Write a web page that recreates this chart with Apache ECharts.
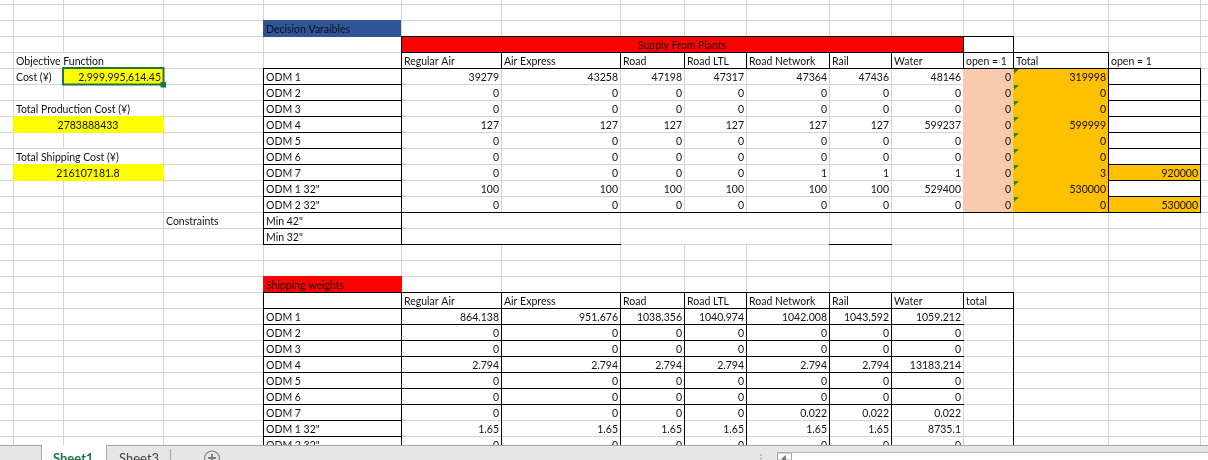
<!DOCTYPE html>
<html>
<head>
<meta charset="utf-8">
<title>Sheet1</title>
<style>
html,body{margin:0;padding:0;background:#fff}
#main{width:1208px;height:460px}
</style>
<script src="https://cdn.jsdelivr.net/npm/echarts@6/dist/echarts.min.js"></script>
</head>
<body>
<div id="main"></div>
<script>
// 表格内容
var rowLabels = ['ODM 1','ODM 2','ODM 3','ODM 4','ODM 5','ODM 6','ODM 7','ODM 1 32"','ODM 2 32"'];
var modes = ['Regular Air','Air Express','Road','Road LTL','Road Network','Rail','Water'];

var supplyRegularAir = [39279,0,0,127,0,0,0,100,0];
var supplyAirExpress = [43258,0,0,127,0,0,0,100,0];
var supplyRoad = [47198,0,0,127,0,0,0,100,0];
var supplyRoadLTL = [47317,0,0,127,0,0,0,100,0];
var supplyRoadNetwork = [47364,0,0,127,0,0,1,100,0];
var supplyRail = [47436,0,0,127,0,0,1,100,0];
var supplyWater = [48146,0,0,599237,0,0,1,529400,0];
var supplyOpen = [0,0,0,0,0,0,0,0,0];
var supplyTotal = [319998,0,0,599999,0,0,3,530000,0];
var supplyOpenLimit = [null,null,null,null,null,null,920000,null,530000];

var weightRegularAir = [864.138,0,0,2.794,0,0,0,1.65,0];
var weightAirExpress = [951.676,0,0,2.794,0,0,0,1.65,0];
var weightRoad = [1038.356,0,0,2.794,0,0,0,1.65,0];
var weightRoadLTL = [1040.974,0,0,2.794,0,0,0,1.65,0];
var weightRoadNetwork = [1042.008,0,0,2.794,0,0,0.022,1.65,0];
var weightRail = [1043.592,0,0,2.794,0,0,0.022,1.65,0];
var weightWater = [1059.212,0,0,13183.214,0,0,0.022,8735.1,0];

var costTotal = '2,999,995,614.45';
var costProduction = '2783888433';
var costShipping = '216107181.8';

// 列边界(px)，x轴单位为px，y轴单位为行
var E = [13,63,163,263,401,501,620,684,746,829,891,963,1013,1108,1200];
var FONT = 'Lato';
var FONT_SIZE = 10.5;
var TEXT_COLOR = '#111111';

var GRID = '#d4d4d4', BLACK = '#000000', YELLOW = '#ffff00', RED = '#ff0000',
	BLUE = '#2f5597', ORANGE = '#ffc000', PEACH = '#f8cbad', WHITE = '#ffffff';

// 填充单元格 [x0,r0,x1,r1,颜色]
var fills = [
	// 合并单元格遮住网格线
	[E[0]+1,3.06,E[2],4,WHITE],[E[0]+1,6.06,E[2],7,WHITE],[E[0]+1,9.06,E[2],10,WHITE],
	[E[4]+1,13.06,E[6],14,WHITE],[E[4]+1,14.06,E[6],15,WHITE],
	[E[6]+1,13.06,E[9],14,WHITE],[E[6]+1,14.06,E[9],15,WHITE],
	[E[3],1,E[4],2.06,BLUE],
	[E[3],17,E[4]+1,18,RED],
	[E[4],2,E[11],3,RED],
	[E[0],7,E[2]+1,8.06,YELLOW],
	[E[0],10,E[2]+1,11.06,YELLOW],
	[E[11],4,E[12],13,PEACH],
	[E[12],4,E[13],13,ORANGE],
	[E[13],10,E[14],11,ORANGE],
	[E[13],12,E[14],13,ORANGE],
	[E[1],4,E[2]+1,5,YELLOW]
];

// 线段 [x0,r0,x1,r1]
var gridLines = [], borders = [];
E.forEach(function(x){ gridLines.push([x,-0.25,x,28]); });
for(var r = 0; r <= 27; r++){ gridLines.push([0,r,1208,r]); }

function hLine(r,a,b){ borders.push([a,r,b,r]); }
function vLine(x,a,b){ borders.push([x,a,x,b]); }

// 上表边框
hLine(2,E[4],E[12]); hLine(3,E[4],E[13]); hLine(4,E[3],E[14]);
vLine(E[4],2,4); vLine(E[12],2,4);
[E[5],E[6],E[7],E[8],E[9],E[10],E[11],E[13]].forEach(function(x){ vLine(x,3,4); });
vLine(E[11],2,3);
vLine(E[13],3,13); vLine(E[14],4,13);
vLine(E[3],4,15); vLine(E[4],4,15);
for(r = 5; r <= 15; r++){ hLine(r,E[3],E[4]); }
for(r = 5; r <= 12; r++){ hLine(r,E[13],E[14]); }
hLine(13,E[4],E[14]);
hLine(15,E[4],E[6]); hLine(15,E[9],E[10]);

// 下表边框
hLine(18,E[3],E[12]); hLine(19,E[3],E[12]);
for(r = 20; r <= 27; r++){ hLine(r,E[3],E[4]); }
for(r = 20; r <= 25; r++){ hLine(r,E[4],E[11]); }
[E[3],E[4],E[5],E[6],E[7],E[8],E[9],E[10]].forEach(function(x){ vLine(x,18,28); });
vLine(E[11],18,19); vLine(E[12],18,28);

// 文字 [x,r,文字,对齐]
var texts = [];
function leftText(x,r,s){ texts.push([x+3,r,s,'left']); }
function rightText(x,r,v){ if(v !== null){ texts.push([x-2,r,String(v),'right']); } }
function midText(x,r,s){ texts.push([x,r,s,'center']); }

leftText(E[0],3,'Objective Function');
leftText(E[0],4,'Cost (¥)');
rightText(E[2],4,costTotal);
leftText(E[0],6,'Total Production Cost (¥)');
midText((E[0]+E[2])/2,7,costProduction);
leftText(E[0],9,'Total Shipping Cost (¥)');
midText((E[0]+E[2])/2,10,costShipping);
leftText(E[2],13,'Constraints');
leftText(E[3],1,'Decision Varaibles');
leftText(E[3],17,'Shipping weights');
midText(682,2,'Supply From Plants');

var supplyCols = [supplyRegularAir,supplyAirExpress,supplyRoad,supplyRoadLTL,supplyRoadNetwork,supplyRail,supplyWater,supplyOpen,supplyTotal,supplyOpenLimit];
var weightCols = [weightRegularAir,weightAirExpress,weightRoad,weightRoadLTL,weightRoadNetwork,weightRail,weightWater];

modes.forEach(function(m,j){
	leftText(E[4+j],3,m);
	leftText(E[4+j],18,m);
});
leftText(E[11],3,'open = 1');
leftText(E[12],3,'Total');
leftText(E[13],3,'open = 1');
leftText(E[11],18,'total');

rowLabels.forEach(function(name,i){
	leftText(E[3],4+i,name);
	leftText(E[3],19+i,name);
	supplyCols.forEach(function(col,j){ rightText(E[5+j],4+i,col[i]); });
	weightCols.forEach(function(col,j){ rightText(E[5+j],19+i,col[i]); });
});
leftText(E[3],13,'Min 42"');
leftText(E[3],14,'Min 32"');

function renderFill(params,api){
	var c = fills[params.dataIndex];
	var p0 = api.coord([api.value(0),api.value(1)]);
	var p1 = api.coord([api.value(2),api.value(3)]);
	return {type:'rect',shape:{x:p0[0],y:p0[1],width:p1[0]-p0[0],height:p1[1]-p0[1]},style:{fill:c[4]}};
}
function makeLineRender(color){
	return function(params,api){
		var p0 = api.coord([api.value(0),api.value(1)]);
		var p1 = api.coord([api.value(2),api.value(3)]);
		var vertical = p0[0] === p1[0];
		return {
			type:'line',
			shape:{
				x1:Math.round(p0[0])+(vertical?0.5:0),y1:Math.round(p0[1])+(vertical?0:0.5),
				x2:Math.round(p1[0])+(vertical?0.5:1),y2:Math.round(p1[1])+(vertical?1:0.5)
			},
			style:{stroke:color,lineWidth:1}
		};
	};
}
function renderText(params,api){
	var t = texts[params.dataIndex];
	var p = api.coord([api.value(0),api.value(1)]);
	return {
		type:'text',
		style:{
			text:t[2],x:p[0],y:p[1]+9.5,align:t[3],verticalAlign:'middle',
			font:FONT_SIZE+'px '+FONT,fill:TEXT_COLOR
		}
	};
}
// 绿色小三角，标记Total列
function renderMarker(params,api){
	var p = api.coord([api.value(0),api.value(1)]);
	return {
		type:'polygon',
		shape:{points:[[p[0]+1,p[1]+1],[p[0]+6,p[1]+1],[p[0]+1,p[1]+6]]},
		style:{fill:'#1f8a2e'}
	};
}

var myChart = echarts.init(document.getElementById('main'));
var baseSeries = {type:'custom',silent:true,clip:false,animation:false};
function customSeries(data,render,encode,z){
	return Object.assign({},baseSeries,{data:data,renderItem:render,encode:encode,z:z});
}
var segEncode = {x:[0,2],y:[1,3]};
var ptEncode = {x:0,y:1};

var markers = rowLabels.map(function(n,i){ return [E[12],4+i]; });

option = {
	animation:false,
	backgroundColor:'#ffffff',
	grid:{left:0,right:0,top:0,bottom:0},
	xAxis:{type:'value',min:0,max:1208,show:false},
	yAxis:{type:'value',min:-0.25,max:28.5,inverse:true,show:false},
	series:[
		customSeries(gridLines,makeLineRender(GRID),segEncode,1),
		customSeries(fills,renderFill,segEncode,2),
		customSeries(borders,makeLineRender(BLACK),segEncode,3),
		customSeries(markers,renderMarker,ptEncode,4),
		customSeries(texts,renderText,ptEncode,5)
	],
	graphic:[
		// 选中单元格
		{type:'rect',z:50,shape:{x:63,y:68,width:100.5,height:16.5},style:{fill:null,stroke:'#217346',lineWidth:2}},
		{type:'rect',z:51,shape:{x:160.5,y:82,width:5.5,height:5.5},style:{fill:'#217346'}},
		// 底部工作表标签栏
		{type:'rect',z:60,shape:{x:0,y:445,width:1208,height:15},style:{fill:'#e6e6e6'}},
		{type:'rect',z:61,shape:{x:777,y:452,width:431,height:8},style:{fill:'#ffffff'}},
		{type:'line',z:62,shape:{x1:0,y1:445.5,x2:1208,y2:445.5},style:{stroke:'#a6a6a6',lineWidth:1}},
		{type:'line',z:62,shape:{x1:777,y1:452.5,x2:1208,y2:452.5},style:{stroke:'#b8b8b8',lineWidth:1}},
		{type:'rect',z:63,shape:{x:42,y:445,width:64,height:15},style:{fill:'#ffffff'}},
		{type:'line',z:64,shape:{x1:41.5,y1:445,x2:41.5,y2:460},style:{stroke:'#a6a6a6',lineWidth:1}},
		{type:'line',z:64,shape:{x1:106.5,y1:445,x2:106.5,y2:460},style:{stroke:'#a6a6a6',lineWidth:1}},
		{type:'line',z:64,shape:{x1:170.5,y1:449,x2:170.5,y2:460},style:{stroke:'#a6a6a6',lineWidth:1}},
		{type:'text',z:65,style:{text:'Sheet1',x:53,y:459,verticalAlign:'middle',font:'bold 13px '+FONT,fill:'#217346'}},
		{type:'text',z:65,style:{text:'Sheet3',x:119,y:459,verticalAlign:'middle',font:'13px '+FONT,fill:'#444444'}},
		{type:'circle',z:65,shape:{cx:212,cy:458.5,r:7.5},style:{fill:null,stroke:'#7f7f7f',lineWidth:1.2}},
		{type:'line',z:65,shape:{x1:212,y1:454,x2:212,y2:460},style:{stroke:'#7f7f7f',lineWidth:2}},
		{type:'line',z:65,shape:{x1:208,y1:458,x2:216,y2:458},style:{stroke:'#7f7f7f',lineWidth:2}},
		{type:'circle',z:65,shape:{cx:761,cy:455,r:0.8},style:{fill:'#8a8a8a'}},
		{type:'circle',z:65,shape:{cx:761,cy:458.5,r:0.8},style:{fill:'#8a8a8a'}},
		{type:'rect',z:65,shape:{x:777.5,y:453,width:14,height:7},style:{fill:'#ffffff',stroke:'#a6a6a6',lineWidth:1}},
		{type:'polygon',z:66,shape:{points:[[782,458],[786,455],[786,460],[782,460]]},style:{fill:'#7f7f7f'}}
	]
};
myChart.setOption(option);
</script>
</body>
</html>
